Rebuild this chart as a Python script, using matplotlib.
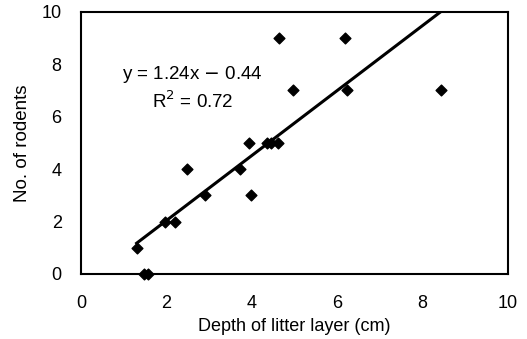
import numpy as np
import matplotlib.pyplot as plt

plt.rcParams["font.family"] = ["Liberation Sans", "DejaVu Sans"]

# data
depth = [1.31, 1.48, 1.57, 1.97, 2.2, 2.48, 2.9, 3.72, 3.93, 3.98,
         4.36, 4.45, 4.61, 4.64, 4.96, 6.18, 6.23, 8.43]
rodents = [1, 0, 0, 2, 2, 4, 3, 4, 5, 3, 5, 5, 5, 9, 7, 9, 7, 7]
slope, intercept = 1.24, -0.44
ticks = [0, 2, 4, 6, 8, 10]

fig = plt.figure(figsize=(5.27, 3.39), dpi=100)
ax = fig.add_axes([0.154, 0.192, 0.81, 0.773])

ax.scatter(depth, rodents, marker="D", s=30, color="black", zorder=3, clip_on=False)

xl = np.array([1.3, (10 - intercept) / slope])
ax.plot(xl, slope * xl + intercept, color="black", lw=2.2)

ax.text(2.6, 7.6, "y = 1.24x $-$ 0.44", ha="center", va="center", fontsize=13.5)
ax.text(2.6, 6.6, "R$^2$ = 0.72", ha="center", va="center", fontsize=13.5)

ax.set_xlim(0, 10)
ax.set_ylim(0, 10)
ax.set_xticks(ticks)
ax.set_yticks(ticks)
ax.tick_params(length=0, labelsize=13)
ax.tick_params(axis="x", pad=15)
ax.tick_params(axis="y", pad=14)
ax.set_xlabel("Depth of litter layer (cm)", fontsize=13, va="center")
ax.set_ylabel("No. of rodents", fontsize=13.5, va="center")
ax.xaxis.set_label_coords(0.5, -0.2)
ax.yaxis.set_label_coords(-0.138, 0.5)
for s in ax.spines.values():
    s.set_linewidth(1.5)

fig.savefig("out.png", dpi=100)
